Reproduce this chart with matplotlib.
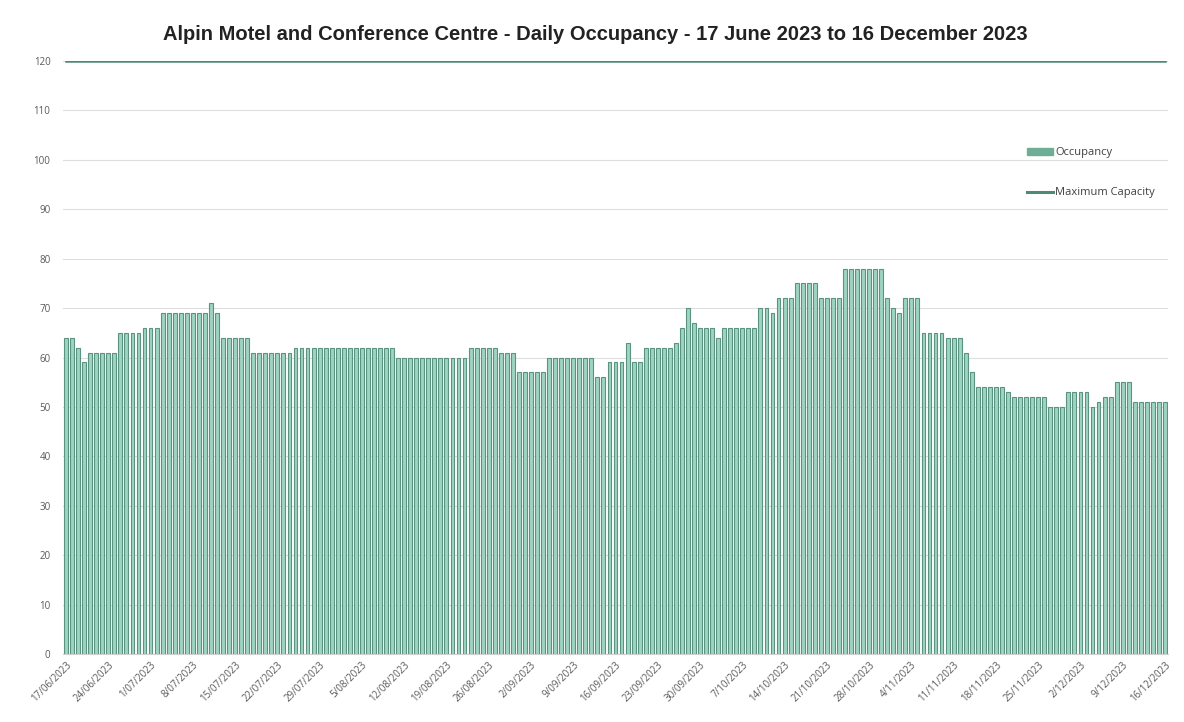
import matplotlib
matplotlib.use("Agg")
import matplotlib.pyplot as plt
import pandas as pd
from matplotlib.patches import Patch
from matplotlib.lines import Line2D

start_date = "2023-06-17"
end_date = "2023-12-16"

occupancy = [
    64, 64, 62, 59, 61, 61, 61,
    61, 61, 65, 65, 65, 65, 66,
    66, 66, 69, 69, 69, 69, 69,
    69, 69, 69, 71, 69, 64, 64,
    64, 64, 64, 61, 61, 61, 61,
    61, 61, 61, 62, 62, 62, 62,
    62, 62, 62, 62, 62, 62, 62,
    62, 62, 62, 62, 62, 62, 60,
    60, 60, 60, 60, 60, 60, 60,
    60, 60, 60, 60, 62, 62, 62,
    62, 62, 61, 61, 61, 57, 57,
    57, 57, 57, 60, 60, 60, 60,
    60, 60, 60, 60, 56, 56, 59,
    59, 59, 63, 59, 59, 62, 62,
    62, 62, 62, 63, 66, 70, 67,
    66, 66, 66, 64, 66, 66, 66,
    66, 66, 66, 70, 70, 69, 72,
    72, 72, 75, 75, 75, 75, 72,
    72, 72, 72, 78, 78, 78, 78,
    78, 78, 78, 72, 70, 69, 72,
    72, 72, 65, 65, 65, 65, 64,
    64, 64, 61, 57, 54, 54, 54,
    54, 54, 53, 52, 52, 52, 52,
    52, 52, 50, 50, 50, 53, 53,
    53, 53, 50, 51, 52, 52, 55,
    55, 55, 51, 51, 51, 51, 51,
    51,
]
max_capacity = 120
y_ticks = list(range(0, 121, 10))
title = "Alpin Motel and Conference Centre - Daily Occupancy - 17 June 2023 to 16 December 2023"
series_names = ["Occupancy", "Maximum Capacity"]

dates = pd.date_range(start_date, end_date, freq="D")
labels = [f"{d.day}/{d.month:02d}/{d.year}" for d in dates]
x = list(range(len(dates)))

plt.rcParams["font.family"] = ["Open Sans", "DejaVu Sans"]

fig = plt.figure(figsize=(11.84, 7.22), dpi=100)
ax = fig.add_axes([63 / 1184, 1 - 654 / 722, (1168 - 63) / 1184, (654 - 61) / 722])

bar_face = "#9dd4c2"
bar_edge = "#5a9480"
line_col = "#4f8a75"

ax.bar(x, occupancy, width=0.64, color=bar_face, edgecolor=bar_edge, linewidth=0.8, zorder=2)
ax.plot(x, [max_capacity] * len(x), color=line_col, linewidth=1.8, zorder=3)

ax.set_xlim(-0.5, len(x) - 0.5)
ax.set_ylim(0, 120)
ax.set_yticks(y_ticks)
ax.set_yticklabels([str(v) for v in y_ticks], fontsize=7, color="#595959")
ax.yaxis.grid(True, color="#dedede", linewidth=0.8, zorder=0)
ax.set_axisbelow(True)
ax.tick_params(axis="y", length=0, pad=9)

tick_idx = x[::7]
ax.set_xticks(tick_idx)
ax.set_xticklabels([labels[i] for i in tick_idx], rotation=45, ha="right",
                   rotation_mode="anchor", fontsize=7, color="#595959")
ax.tick_params(axis="x", length=0, pad=4)

for s in ["top", "right", "left"]:
    ax.spines[s].set_visible(False)
ax.spines["bottom"].set_color("#d0d0d0")
ax.spines["bottom"].set_linewidth(0.8)

handles = [Patch(facecolor="#6fae96", edgecolor="#6fae96"),
           Line2D([0], [0], color=line_col, linewidth=2.2)]
leg = ax.legend(handles, series_names, loc="upper left", bbox_to_anchor=(0.868, 0.862),
                frameon=False, fontsize=8, labelspacing=2.6, handlelength=2.4,
                handleheight=0.5, handletextpad=0.15, borderaxespad=0)
for t in leg.get_texts():
    t.set_color("#404040")

fig.text(595 / 1184, 1 - 34 / 722, title, ha="center", va="center",
         fontsize=14.5, fontweight="bold", color="#222222",
         family=["Liberation Sans", "DejaVu Sans"])

fig.savefig("out.png", dpi=100)
